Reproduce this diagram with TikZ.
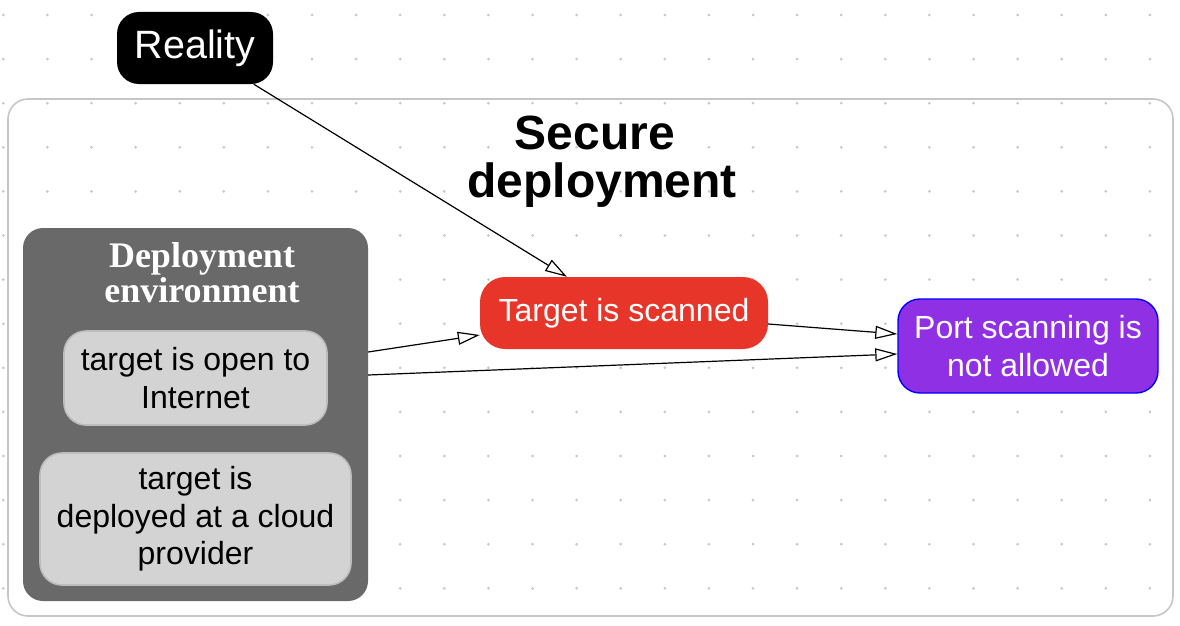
\documentclass[tikz,border=0pt]{standalone}
\usepackage{fontspec}
\setmainfont{Liberation Sans}
\newfontfamily\serifbold{Liberation Serif}
\usetikzlibrary{arrows.meta,calc}
\definecolor{dotgray}{HTML}{C8C8C8}
\definecolor{clusterline}{HTML}{C6C6C6}
\definecolor{envfill}{HTML}{696969}
\definecolor{leaffill}{HTML}{D3D3D3}
\definecolor{leafline}{HTML}{BDBDBD}
\definecolor{scanred}{HTML}{E8352A}
\definecolor{portpurple}{HTML}{9030E5}
\tikzset{
  basebox/.style={rounded corners=22pt, inner sep=0pt, align=center, font=\fontsize{32}{37.5}\selectfont},
  leafbox/.style={basebox, fill=leaffill, draw=leafline, line width=1.6pt, text=black},
  arr/.style={-{Triangle[open, length=22pt, width=13pt]}, line width=1.2pt, black},
}
\begin{document}
\begin{tikzpicture}[x=1pt,y=-1pt]
\useasboundingbox (0,0) rectangle (1180,626);
% dot grid
\foreach \i in {0,...,26}{
  \foreach \j in {0,...,13}{
    \fill[dotgray] (3.3+44.1*\i, 15+44.1*\j) circle (1.5pt);
  }
}
% outer cluster
\node[draw=clusterline, line width=1.6pt, rounded corners=20pt, minimum width=1165pt, minimum height=517pt, inner sep=0pt] (secure) at (590.5,357.5) {};
\node[font=\bfseries\fontsize{48}{48}\selectfont, align=center] (securelabel) at (602,162) {Secure\hspace*{14pt}\\deployment};
% env cluster
\node[fill=envfill, rounded corners=20pt, minimum width=345pt, minimum height=373pt, inner sep=0pt] (env) at (195.5,414.5) {};
\node[font=\serifbold\bfseries\fontsize{36}{35}\selectfont, text=white, align=center] (envlabel) at (202,273) {Deployment\\environment};
% leaves
\node[leafbox, minimum width=263pt, minimum height=94pt] (open) at (195.5,378) {target is open to\\Internet};
\node[leafbox, minimum width=311pt, minimum height=132pt] (cloud) at (195.5,519) {target is\\deployed at a cloud\\provider};
% Reality
\node[basebox, fill=black, text=white, font=\fontsize{39.5}{44}\selectfont, minimum width=156pt, minimum height=72pt] (reality) at (195,48) {Reality};
% Target is scanned
\node[basebox, rounded corners=25pt, fill=scanred, text=white, minimum width=288pt, minimum height=72pt] (scanned) at (624,313) {Target is scanned};
% Port scanning
\node[basebox, fill=portpurple, draw=blue, line width=1.4pt, text=white, minimum width=260pt, minimum height=94pt] (port) at (1028,346) {Port scanning is\\not allowed};
% edges
\draw[arr] (reality) -- ($(scanned.north)+(-57,0)$);
\draw[arr] ($(env.east)+(0,-62.5)$) -- ($(scanned.west)+(0,22)$);
\draw[arr] ($(scanned.east)+(0,11)$) -- ($(port.west)+(0,-12)$);
\draw[arr] ($(env.east)+(0,-39.5)$) -- ($(port.west)+(0,8)$);
\end{tikzpicture}
\end{document}
